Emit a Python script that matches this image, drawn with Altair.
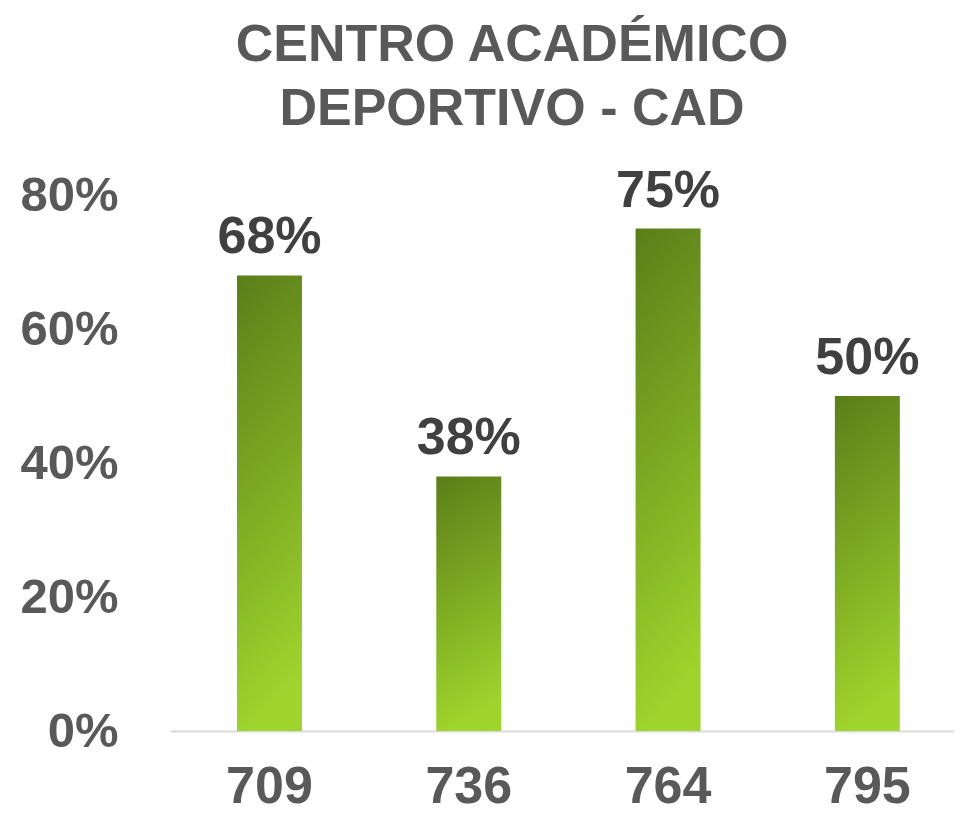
import altair as alt
import pandas as pd

categories = ["709", "736", "764", "795"]
values = [0.68, 0.38, 0.75, 0.50]
labels = ["68%", "38%", "75%", "50%"]

df = pd.DataFrame({"cat": categories, "val": values, "lab": labels})

FONT = "Liberation Sans"

x_scale = alt.Scale(paddingInner=0.674, paddingOuter=0.304, align=0.553)
y_scale = alt.Scale(domain=[0, 0.8])

bars = alt.Chart(df).mark_bar(
    color=alt.Gradient(
        gradient="linear",
        x1=0, y1=0, x2=0.15, y2=1,
        stops=[alt.GradientStop(color="#5a7e19", offset=0),
               alt.GradientStop(color="#9ed42c", offset=1)],
    )
).encode(
    x=alt.X("cat:N", sort=categories, scale=x_scale,
            axis=alt.Axis(title=None, labelAngle=0, ticks=False, domain=True,
                          domainColor="#d9d9d9", domainWidth=2,
                          labelFont=FONT, labelFontSize=52, labelFontWeight="bold",
                          labelColor="#595959", labelPadding=30)),
    y=alt.Y("val:Q", scale=y_scale,
            axis=alt.Axis(title=None, format=".0%", values=[0, 0.2, 0.4, 0.6, 0.8],
                          grid=False, domain=False, ticks=False,
                          labelFont=FONT, labelFontSize=49, labelFontWeight="bold",
                          labelColor="#595959", labelPadding=52)),
)

text = alt.Chart(df).mark_text(
    font=FONT, fontSize=52, fontWeight="bold", color="#404040",
    baseline="alphabetic", align="center", dy=-22
).encode(
    x=alt.X("cat:N", sort=categories, scale=x_scale),
    y=alt.Y("val:Q", scale=y_scale),
    text="lab:N",
)

chart = alt.layer(bars, text).properties(
    width=784,
    height=536,
    title=alt.TitleParams(
        text=["CENTRO ACADÉMICO", "DEPORTIVO - CAD"],
        font=FONT, fontSize=52, fontWeight="bold", color="#595959",
        lineHeight=64, anchor="middle", dx=-50, dy=-25,
    ),
    padding={"left": 162, "top": 187, "right": 0, "bottom": 85},
    autosize=alt.AutoSizeParams(type="none"),
).configure_view(stroke=None)

chart.save("out.html", embed_options={"renderer": "svg", "actions": False})
